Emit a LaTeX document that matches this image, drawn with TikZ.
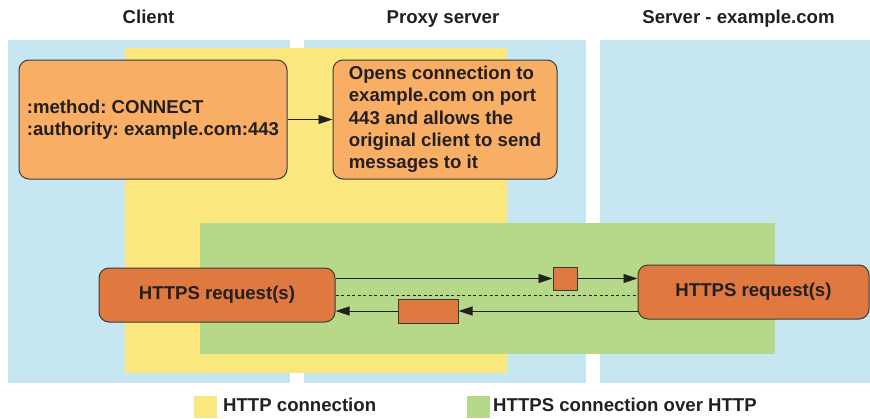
\documentclass[tikz,border=0pt]{standalone}
\usepackage{fontspec}
\setmainfont{Liberation Sans}
\usetikzlibrary{arrows.meta}

\definecolor{laneblue}{HTML}{C6E7F1}
\definecolor{httpyellow}{HTML}{FAE77E}
\definecolor{httpsgreen}{HTML}{B5D989}
\definecolor{lightorange}{HTML}{F8AE64}
\definecolor{darkorange}{HTML}{DF7940}
\definecolor{inkgray}{HTML}{231F20}
\definecolor{edgegray}{HTML}{3A3A3A}

\frenchspacing

\tikzset{
  bigfont/.style={font=\bfseries\fontsize{18.6}{22.3}\selectfont, text=inkgray},
  infobox/.style={bigfont, draw=edgegray, line width=1pt, rounded corners=10pt,
    fill=lightorange, align=left, inner sep=0pt, minimum height=119pt},
  reqbox/.style={bigfont, draw=edgegray, line width=1pt, rounded corners=10pt,
    fill=darkorange, align=center, inner sep=0pt, minimum height=54pt},
  msgbox/.style={draw=edgegray, line width=1pt, fill=darkorange, inner sep=0pt},
  lanetitle/.style={bigfont, anchor=base},
  legendbox/.style={inner sep=0pt, minimum width=23pt, minimum height=22pt},
  flow/.style={draw=inkgray, line width=0.9pt, -{Triangle[length=14pt,width=9pt]}},
}

\begin{document}
\begin{tikzpicture}[x=1pt, y=-1pt]
    \useasboundingbox (0,0) rectangle (870,418);

    % lanes and connection areas
    \fill[laneblue] (8,40) rectangle (290,383);
    \fill[laneblue] (304,40) rectangle (586,383);
    \fill[laneblue] (600,40) rectangle (870,383);
    \fill[httpyellow] (125,48) rectangle (507,373);
    \fill[httpsgreen] (200,223) rectangle (775,354);

    \node[lanetitle] (tclient) at (148.5,23) {Client};
    \node[lanetitle] (tproxy) at (443,23) {Proxy server};
    \node[lanetitle] (tserver) at (738.5,23) {Server - example.com};

    \node[infobox, minimum width=268pt] (connect) at (153,119.5)
        {:method: CONNECT\\:authority: example.com:443};
    \node[infobox, minimum width=224pt] (opens) at (445,119.5)
        {Opens connection to\\example.com on port\\443 and allows the\\original client to send\\messages to it};

    \node[reqbox, minimum width=236pt] (clientreq) at (217,295) {HTTPS request(s)};
    \node[reqbox, minimum width=231pt] (serverreq) at (753.5,292) {HTTPS request(s)};
    \node[msgbox, minimum width=24pt, minimum height=23pt] (upmsg) at (565,278.5) {};
    \node[msgbox, minimum width=60pt, minimum height=24pt] (downmsg) at (428,311) {};

    \draw[flow] (connect) -- (opens);
    \draw[flow] (upmsg.west -| clientreq.east) -- (upmsg.west);
    \draw[flow] (upmsg.east) -- (upmsg.east -| serverreq.west);
    \draw[inkgray, line width=1pt, dash pattern=on 3pt off 2.5pt] (clientreq.east) -- (clientreq.east -| serverreq.west);
    \draw[flow] (downmsg.east -| serverreq.west) -- (downmsg.east);
    \draw[flow] (downmsg.west) -- (downmsg.west -| clientreq.east);

    % legend
    \node[legendbox, fill=httpyellow] (leghttp) at (205.5,407) {};
    \node[bigfont, anchor=base west, inner sep=0pt] (leghttptext) at (223,411) {HTTP connection};
    \node[legendbox, fill=httpsgreen] (leghttps) at (478.5,407) {};
    \node[bigfont, anchor=base west, inner sep=0pt] (leghttpstext) at (493,411) {HTTPS connection over HTTP};
\end{tikzpicture}
\end{document}
